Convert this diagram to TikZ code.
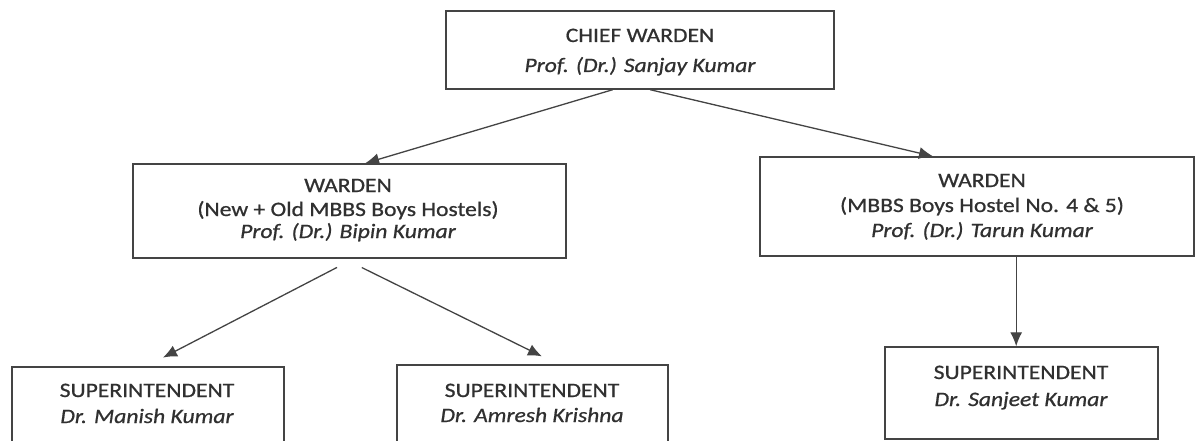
\documentclass[tikz,border=0pt]{standalone}
\usepackage{fontspec}
\setmainfont{Carlito}[FakeStretch=1.15,FakeBold=0.8]
\usetikzlibrary{arrows.meta,calc}
\definecolor{ink}{HTML}{303030}
\definecolor{edge}{HTML}{444444}
\begin{document}
\begin{tikzpicture}[x=1pt,y=-1pt,
  box/.style={draw=edge,line width=1.4pt,inner sep=0pt},
  txt/.style={anchor=base,text=ink,inner sep=0pt,font=\fontsize{20.5}{24}\selectfont},
  nm/.style={txt,font=\fontsize{20.5}{24}\selectfont\itshape},
  arr/.style={draw=edge,line width=1.3pt,-{Latex[length=14pt,width=12pt]}}]
\fill[white] (0,0) rectangle (1196,441);
\useasboundingbox (0,0) rectangle (1196,441);
% boxes
\node[box,minimum width=388pt,minimum height=78pt] (chief) at (640,50) {};
\node[box,minimum width=433pt,minimum height=94pt] (wl) at (349.5,211) {};
\node[box,minimum width=434pt,minimum height=99pt] (wr) at (977,206.5) {};
\node[box,minimum width=272pt,minimum height=93pt] (sl) at (148,413.5) {};
\node[box,minimum width=271pt,minimum height=95pt] (sm) at (532.5,412.5) {};
\node[box,minimum width=273pt,minimum height=92pt] (sr) at (1021.5,393) {};
% texts
\node[txt] (c1) at (640,42) {CHIEF WARDEN};
\node[nm]  (c2) at (640,72) {Prof. (Dr.) Sanjay Kumar};
\node[txt] (l1) at (348,192) {WARDEN};
\node[txt] (l2) at (348,216) {(New + Old MBBS Boys Hostels)};
\node[nm]  (l3) at (348,238) {Prof. (Dr.) Bipin Kumar};
\node[txt] (r1) at (982,187) {WARDEN};
\node[txt] (r2) at (982,212) {(MBBS Boys Hostel No. 4 \& 5)};
\node[nm]  (r3) at (982,237) {Prof. (Dr.) Tarun Kumar};
\node[txt] (a1) at (147,397) {SUPERINTENDENT};
\node[nm]  (a2) at (147,423) {Dr. Manish Kumar};
\node[txt] (b1) at (532,397) {SUPERINTENDENT};
\node[nm]  (b2) at (532,422) {Dr. Amresh Krishna};
\node[txt] (d1) at (1021,379) {SUPERINTENDENT};
\node[nm]  (d2) at (1021,406) {Dr. Sanjeet Kumar};
% connectors
\draw[arr] ($(chief.south west)!0.43!(chief.south east)$) -- ($(wl.north west)!0.536!(wl.north east)$);
\draw[arr] ($(chief.south west)!0.526!(chief.south east)$) -- ($(wr.north west)!0.399!(wr.north east)$);
\draw[arr,shorten <=19pt,shorten >=19pt] ($(wl.south west)!0.51!(wl.south east)$) -- ($(sl.north west)!0.493!(sl.north east)$);
\draw[arr,shorten <=20pt,shorten >=18pt] ($(wl.south west)!0.487!(wl.south east)$) -- ($(sm.north west)!0.594!(sm.north east)$);
\draw[arr] ($(wr.south west)!0.59!(wr.south east)$) coordinate (v) -- (v |- sr.north);
\end{tikzpicture}
\end{document}
